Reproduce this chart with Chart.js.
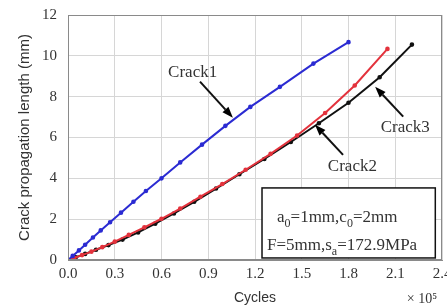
<!DOCTYPE html>
<html>
<head>
<meta charset="utf-8">
<script src="https://cdn.jsdelivr.net/npm/chart.js@4/dist/chart.umd.min.js"></script>
<style>
  html, body { margin: 0; padding: 0; background: #fff; }
  #wrap { width: 447px; height: 305px; }
</style>
</head>
<body>
<div id="wrap"><canvas id="crack-chart"></canvas></div>
<script>
// cycles are in units of 1e5, crack lengths in mm
const xTicks = [0, 0.3, 0.6, 0.9, 1.2, 1.5, 1.8, 2.1, 2.4];
const yTicks = [0, 2, 4, 6, 8, 10, 12];

const crack1Cycles = [0, 0.03, 0.07, 0.11, 0.16, 0.21, 0.27, 0.34, 0.42, 0.50, 0.60, 0.72, 0.86, 1.01, 1.17, 1.36, 1.575, 1.8];
const crack1Length = [0, 0.2, 0.47, 0.75, 1.1, 1.45, 1.85, 2.32, 2.85, 3.38, 4.0, 4.78, 5.65, 6.57, 7.5, 8.48, 9.62, 10.67];

const crack2Cycles = [0, 0.04, 0.09, 0.15, 0.22, 0.3, 0.39, 0.49, 0.6, 0.72, 0.85, 0.99, 1.14, 1.30, 1.47, 1.65, 1.84, 2.05];
const crack2Length = [0, 0.1, 0.24, 0.41, 0.63, 0.9, 1.23, 1.6, 2.02, 2.52, 3.1, 3.72, 4.42, 5.2, 6.1, 7.2, 8.55, 10.34];

const crack3Cycles = [0, 0.05, 0.11, 0.18, 0.26, 0.35, 0.45, 0.56, 0.68, 0.81, 0.95, 1.10, 1.26, 1.43, 1.61, 1.80, 2.0, 2.207];
const crack3Length = [0, 0.13, 0.3, 0.5, 0.73, 1.0, 1.35, 1.78, 2.28, 2.85, 3.5, 4.2, 4.95, 5.78, 6.7, 7.7, 8.95, 10.55];

const toPoints = (xs, ys) => xs.map((x, i) => ({ x: x, y: ys[i] }));

// annotation arrows and labels, placed in data units
const arrowNotes = [
    { text: "Crack1", at: [0.80, 9.18], from: [0.847, 8.74], to: [1.058, 6.97] },
    { text: "Crack2", at: [1.825, 4.56], from: [1.765, 5.15], to: [1.585, 6.63] },
    { text: "Crack3", at: [2.164, 6.48], from: [2.151, 7.02], to: [1.971, 8.49] },
];
const infoBox = { topLeft: [1.245, 3.53], bottomRight: [2.357, 0.1] };

const serif = '"Liberation Serif", "DejaVu Serif", serif';
const sans = '"Liberation Sans", Arial, sans-serif';

const notesPlugin = {
    id: "notes",
    afterDatasetsDraw(chart) {
        const { ctx, scales: { x, y }, chartArea } = chart;
        const px = (p) => [x.getPixelForValue(p[0]), y.getPixelForValue(p[1])];

        ctx.save();
        // plot frame
        ctx.strokeStyle = "#8a8a8a";
        ctx.lineWidth = 1;
        ctx.strokeRect(chartArea.left + 0.5, chartArea.top + 0.5,
            chartArea.right - chartArea.left - 1, chartArea.bottom - chartArea.top - 1);

        // arrows with labels
        ctx.font = "17px " + serif;
        ctx.textAlign = "center";
        ctx.textBaseline = "middle";
        arrowNotes.forEach((n) => {
            const [tx, ty] = px(n.at);
            ctx.fillStyle = "#333";
            ctx.fillText(n.text, tx, ty);
            const [x0, y0] = px(n.from);
            const [x1, y1] = px(n.to);
            const ang = Math.atan2(y1 - y0, x1 - x0);
            const head = 11, half = 4;
            const bx = x1 - head * Math.cos(ang), by = y1 - head * Math.sin(ang);
            ctx.strokeStyle = "#111";
            ctx.lineWidth = 2;
            ctx.beginPath();
            ctx.moveTo(x0, y0);
            ctx.lineTo(bx, by);
            ctx.stroke();
            ctx.fillStyle = "#000";
            ctx.beginPath();
            ctx.moveTo(x1, y1);
            ctx.lineTo(bx + half * Math.sin(ang), by - half * Math.cos(ang));
            ctx.lineTo(bx - half * Math.sin(ang), by + half * Math.cos(ang));
            ctx.closePath();
            ctx.fill();
        });

        // parameter box
        const [bx0, by0] = px(infoBox.topLeft);
        const [bx1, by1] = px(infoBox.bottomRight);
        ctx.fillStyle = "#fff";
        ctx.fillRect(bx0, by0, bx1 - bx0, by1 - by0);
        ctx.strokeStyle = "#111";
        ctx.lineWidth = 1.5;
        ctx.strokeRect(bx0, by0, bx1 - bx0, by1 - by0);

        // text with subscripts
        const runs = (parts, sx, sy) => {
            let cx = sx;
            ctx.textAlign = "left";
            ctx.textBaseline = "alphabetic";
            parts.forEach(([s, sub]) => {
                ctx.font = (sub ? "12px " : "17px ") + serif;
                ctx.fillText(s, cx, sub ? sy + 5 : sy);
                cx += ctx.measureText(s).width;
            });
        };
        ctx.fillStyle = "#333";
        runs([["a", 0], ["0", 1], ["=1mm,c", 0], ["0", 1], ["=2mm", 0]], bx0 + 15, by0 + 34);
        runs([["F=5mm,s", 0], ["a", 1], ["=172.9MPa", 0]], bx0 + 5, by0 + 62);

        // exponent label under the x axis
        ctx.font = "14px " + serif;
        ctx.textAlign = "center";
        ctx.textBaseline = "middle";
        ctx.fillStyle = "#333";
        ctx.fillText("\u00d7 10\u2075", chartArea.right - 20, 299);
        ctx.restore();
    },
};

const ctx = document.getElementById("crack-chart");

const lineSet = (label, xs, ys, color) => ({
    label: label,
    data: toPoints(xs, ys),
    borderColor: color,
    backgroundColor: color,
    borderWidth: 2,
    pointRadius: 1.3,
    pointHoverRadius: 1.3,
    tension: 0,
});

new Chart(ctx, {
    type: "line",
    data: {
        datasets: [
            lineSet("Crack1", crack1Cycles, crack1Length, "#2b2bd2"),
            lineSet("Crack2", crack2Cycles, crack2Length, "#e3323c"),
            lineSet("Crack3", crack3Cycles, crack3Length, "#111111"),
        ],
    },
    options: {
        responsive: true,
        maintainAspectRatio: false,
        animation: false,
        events: [],
        layout: { padding: { top: 15, right: 5, left: 0, bottom: 0 } },
        scales: {
            x: {
                type: "linear",
                min: 0,
                max: 2.4,
                afterBuildTicks: (scale) => { scale.ticks = xTicks.map((v) => ({ value: v })); },
                afterFit: (scale) => {
                    scale.height = 45;
                    scale.paddingLeft = 0;
                    scale.paddingRight = 0;
                },
                grid: { color: "#d6d6d6", lineWidth: 1, drawTicks: false },
                border: { display: true, color: "#8a8a8a" },
                ticks: {
                    padding: 5,
                    color: "#333",
                    font: { family: serif, size: 15 },
                    maxRotation: 0,
                    callback: (v) => Number(v).toFixed(1),
                },
                title: {
                    display: true,
                    text: "Cycles",
                    color: "#333",
                    font: { family: sans, size: 14, lineHeight: 1 },
                    padding: { top: 0, bottom: 0 },
                },
            },
            y: {
                type: "linear",
                min: 0,
                max: 12,
                afterBuildTicks: (scale) => { scale.ticks = yTicks.map((v) => ({ value: v })); },
                afterFit: (scale) => {
                    scale.width = 68;
                    scale.paddingTop = 0;
                    scale.paddingBottom = 0;
                },
                grid: { color: "#d6d6d6", lineWidth: 1, drawTicks: false },
                border: { display: true, color: "#8a8a8a" },
                ticks: {
                    padding: 11,
                    color: "#333",
                    font: { family: serif, size: 15 },
                },
                title: {
                    display: true,
                    text: "Crack propagation length (mm)",
                    color: "#333",
                    font: { family: sans, size: 15, lineHeight: 1.2 },
                    padding: { top: 16, bottom: 0 },
                },
            },
        },
        plugins: {
            legend: { display: false },
            tooltip: { enabled: false },
        },
    },
    plugins: [notesPlugin],
});
</script>
</body>
</html>
